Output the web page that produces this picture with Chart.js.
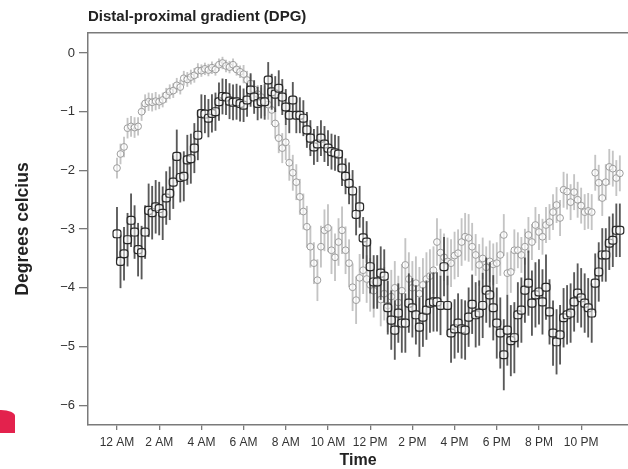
<!DOCTYPE html>
<html>
<head>
<meta charset="utf-8">
<script src="https://cdn.jsdelivr.net/npm/chart.js@4.4.1/dist/chart.umd.min.js"></script>
<style>
  body { margin: 0; background: #fff; }
  #wrap { position: relative; width: 628px; height: 469px; }
  #mark { position: absolute; left: 0; top: 410px; width: 15px; height: 23px; background: #e3224d; border-top-right-radius: 14px 6px; }
</style>
</head>
<body>
<div id="wrap">
  <canvas id="myChart"></canvas>
  <div id="mark"></div>
</div>
<script>
  // 10-minute samples starting at midnight
  var stepHours = 1 / 6;

  var tickHours = [0, 2, 4, 6, 8, 10, 12, 14, 16, 18, 20, 22];
  var tickLabels = ['12 AM', '2 AM', '4 AM', '6 AM', '8 AM', '10 AM', '12 PM', '2 PM', '4 PM', '6 PM', '8 PM', '10 PM'];

  var darkMean = [
    -3.08, -3.55, -3.42, -3.18, -2.85, -3.05,
    -3.35, -3.40, -3.05, -2.68, -2.72, -2.62,
    -2.65, -2.73, -2.47, -2.39, -2.20, -1.76,
    -2.12, -2.10, -1.82, -1.80, -1.62, -1.40,
    -1.03, -1.04, -1.11, -1.03, -1.00, -0.83,
    -0.74, -0.75, -0.82, -0.84, -0.83, -0.86,
    -0.89, -0.80, -0.63, -0.75, -0.86, -0.83,
    -0.83, -0.46, -0.66, -0.70, -0.60, -0.75,
    -0.92, -1.06, -0.80, -1.06, -1.06, -1.11,
    -1.31, -1.45, -1.60, -1.55, -1.45, -1.55,
    -1.62, -1.68, -1.70, -1.72, -1.96, -2.10,
    -2.22, -2.35, -2.75, -2.62, -3.15, -3.22,
    -3.64, -3.90, -3.90, -3.75, -3.80, -4.34,
    -4.55, -4.72, -4.43, -4.60, -4.60, -4.26,
    -4.34, -4.46, -4.67, -4.50, -4.38, -4.26,
    -4.24, -4.24, -4.30, -3.64, -4.30, -4.77,
    -4.70, -4.60, -4.70, -4.72, -4.50, -4.28,
    -4.46, -4.43, -4.30, -4.04, -4.12, -4.34,
    -4.60, -4.77, -5.14, -4.72, -4.90, -4.85,
    -4.46, -4.38, -4.04, -3.92, -4.26, -4.12,
    -4.07, -4.24, -3.99, -4.41, -4.77, -4.92,
    -4.80, -4.51, -4.46, -4.43, -4.24, -4.09,
    -4.17, -4.26, -4.34, -4.43, -3.92, -3.73,
    -3.44, -3.44, -3.24, -3.19, -3.02, -3.02
  ];

  var lightMean = [
    -1.96, -1.72, -1.60, -1.28, -1.25, -1.27,
    -1.25, -1.00, -0.86, -0.83, -0.84, -0.82,
    -0.83, -0.80, -0.72, -0.66, -0.64, -0.55,
    -0.58, -0.43, -0.45, -0.41, -0.38, -0.30,
    -0.30, -0.27, -0.29, -0.25, -0.28, -0.20,
    -0.17, -0.22, -0.24, -0.20, -0.28, -0.32,
    -0.36, -0.46, -0.52, -0.62, -0.70, -0.75,
    -0.82, -0.88, -0.97, -1.20, -1.45, -1.62,
    -1.52, -1.87, -2.04, -2.20, -2.45, -2.70,
    -2.96, -3.30, -3.58, -3.87, -3.30, -3.02,
    -2.98, -3.36, -3.48, -3.22, -3.02, -3.36,
    -3.58, -3.99, -4.21, -3.83, -3.70, -3.85,
    -3.95, -4.05, -3.90, -4.20, -4.10, -4.30,
    -4.15, -4.00, -4.25, -4.05, -3.61, -3.85,
    -4.00, -3.92, -4.10, -3.95, -3.85, -3.80,
    -3.70, -3.22, -3.40, -3.48, -3.55, -3.58,
    -3.45, -3.41, -3.22, -3.13, -3.15, -3.30,
    -3.44, -3.61, -3.50, -3.65, -3.55, -3.60,
    -3.58, -3.44, -3.10, -3.75, -3.73, -3.36,
    -3.36, -3.44, -3.30, -3.10, -3.22, -2.93,
    -3.05, -3.13, -2.93, -2.88, -2.71, -2.59,
    -2.81, -2.33, -2.36, -2.54, -2.37, -2.50,
    -2.60, -2.71, -2.69, -2.71, -2.04, -2.21,
    -2.47, -2.20, -1.94, -1.97, -2.13, -2.05
  ];

  // half-length of the error bars, one value per hour of the day
  var darkErr = [0.45, 0.45, 0.45, 0.42, 0.32, 0.30, 0.28, 0.30, 0.30, 0.30, 0.30, 0.35,
                 0.45, 0.50, 0.50, 0.50, 0.50, 0.55, 0.60, 0.55, 0.55, 0.50, 0.50, 0.45];
  var lightErr = [0.17, 0.15, 0.12, 0.12, 0.10, 0.10, 0.15, 0.25, 0.30, 0.35, 0.40, 0.40,
                  0.45, 0.45, 0.45, 0.40, 0.40, 0.35, 0.35, 0.30, 0.30, 0.30, 0.30, 0.30];

  function points(means) {
    return means.map(function(v, i) { return { x: i * stepHours, y: v }; });
  }
  function errorBars(means, errs) {
    return means.map(function(v, i) {
      var e = errs[Math.floor(i / 6)];
      return { x: i * stepHours, y: [v - e, v + e] };
    });
  }

  var axisColor = '#7a7a7a';
  var textColor = '#333';
  var fontFamily = 'Liberation Sans, Arial, sans-serif';

  var ctx = document.getElementById('myChart').getContext('2d');
  var dpgChart = new Chart(ctx, {
    type: 'bar',
    data: {
      datasets: [
        {
          type: 'line',
          data: points(darkMean),
          showLine: false,
          pointStyle: 'rectRounded',
          pointRadius: 4.6,
          pointBorderWidth: 1.2,
          pointBorderColor: '#2a2a2a',
          pointBackgroundColor: 'rgba(255,255,255,0.55)',
          order: 0
        },
        {
          type: 'bar',
          data: errorBars(darkMean, darkErr),
          backgroundColor: 'rgba(60,60,60,0.85)',
          barThickness: 1.2,
          grouped: false,
          order: 1
        },
        {
          type: 'line',
          data: points(lightMean),
          showLine: false,
          pointStyle: 'circle',
          pointRadius: 3.4,
          pointBorderWidth: 1,
          pointBorderColor: '#9c9c9c',
          pointBackgroundColor: 'rgba(255,255,255,0.6)',
          order: 2
        },
        {
          type: 'bar',
          data: errorBars(lightMean, lightErr),
          backgroundColor: '#c4c4c4',
          barThickness: 1.2,
          grouped: false,
          order: 3
        }
      ]
    },
    options: {
      responsive: true,
      maintainAspectRatio: false,
      animation: false,
      layout: { padding: 0, autoPadding: false },
      plugins: {
        legend: { display: false },
        tooltip: { enabled: false },
        title: {
          display: true,
          text: 'Distal-proximal gradient (DPG)',
          align: 'start',
          fullSize: false,
          color: '#222',
          font: { family: fontFamily, size: 15, weight: 'bold' },
          padding: { top: 8, bottom: 7 }
        }
      },
      scales: {
        x: {
          type: 'linear',
          position: 'bottom',
          min: -1.374,
          max: 24.22,
          offset: false,
          afterBuildTicks: function(scale) {
            scale.ticks = tickHours.map(function(h) { return { value: h }; });
          },
          afterFit: function(scale) { scale.height = 44; },
          grid: { display: true, offset: false, drawOnChartArea: false, drawTicks: true, tickLength: 5, color: axisColor, lineWidth: 1.3 },
          border: { display: true, color: axisColor, width: 1.5 },
          ticks: {
            color: textColor,
            padding: 5,
            maxRotation: 0,
            autoSkip: false,
            font: { family: fontFamily, size: 12 },
            callback: function(value) {
              var k = tickHours.indexOf(value);
              return k >= 0 ? tickLabels[k] : '';
            }
          },
          title: {
            display: true,
            text: 'Time',
            color: '#222',
            font: { family: fontFamily, size: 16, weight: 'bold' },
            padding: { top: 0, bottom: -1 }
          }
        },
        x2: {
          type: 'linear',
          position: 'top',
          min: 0,
          max: 1,
          afterFit: function(scale) { scale.height = 0; },
          grid: { display: false, drawTicks: false },
          ticks: { display: false },
          border: { display: true, color: axisColor, width: 1.5 }
        },
        y: {
          type: 'linear',
          min: -6.337,
          max: 0.341,
          afterBuildTicks: function(scale) {
            scale.ticks = [-6, -5, -4, -3, -2, -1, 0].map(function(v) { return { value: v }; });
          },
          afterFit: function(scale) { scale.width = 88; },
          grid: { display: true, drawOnChartArea: false, drawTicks: true, tickLength: 9, color: axisColor, lineWidth: 1.3 },
          border: { display: true, color: axisColor, width: 1.5 },
          ticks: {
            color: textColor,
            padding: 4,
            font: { family: fontFamily, size: 13 },
            callback: function(value) {
              return value < 0 ? '\u2212' + Math.abs(value) : String(value);
            }
          },
          title: {
            display: true,
            text: 'Degrees celcius',
            color: '#222',
            font: { family: fontFamily, size: 17.5, weight: 'bold' },
            padding: { top: 13, bottom: 0 }
          }
        }
      }
    }
  });
</script>
</body>
</html>
